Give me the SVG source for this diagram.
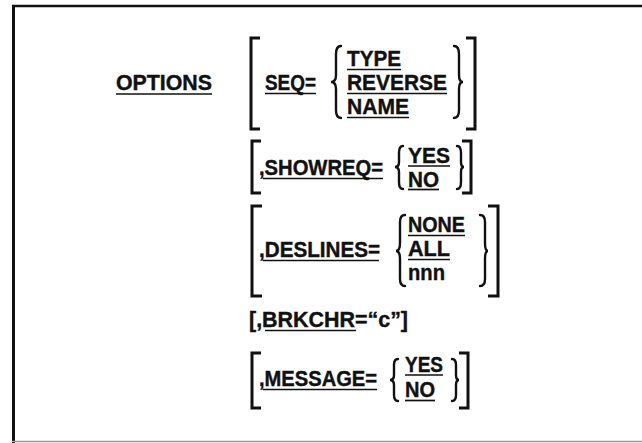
<svg xmlns="http://www.w3.org/2000/svg" width="642" height="443" viewBox="0 0 642 443">
<style>
text{font-family:"Liberation Sans",Arial,sans-serif;font-weight:bold;font-size:22px;fill:#111;stroke:#111;stroke-width:0.4}
.u{stroke:#111;stroke-width:1.7}
.br{fill:none;stroke:#111;stroke-width:3}
.cb{fill:none;stroke:#111;stroke-width:2.4;stroke-linecap:round}
</style>
<rect width="642" height="443" fill="#fff"/>
<g id="frame">
<line x1="13.5" y1="5" x2="13.5" y2="443" stroke="#111" stroke-width="3"/>
<line x1="12" y1="6" x2="642" y2="6" stroke="#111" stroke-width="2.5"/>
<line x1="12" y1="441.5" x2="642" y2="441.5" stroke="#999" stroke-width="1.5"/>
</g>
<g id="options">
<text x="116" y="90" textLength="96" lengthAdjust="spacingAndGlyphs">OPTIONS</text>
<line class="u" x1="116" y1="94" x2="212" y2="94"/>
</g>
<g id="seq">
<path class="br" d="M260 38H251V129H260"/>
<path class="br" d="M466 38H475V129H466"/>
<text x="265" y="90" textLength="51" lengthAdjust="spacingAndGlyphs">SEQ=</text>
<line class="u" x1="265" y1="93.5" x2="316" y2="93.5"/>
<path class="cb" d="M341 46Q336 46 336 54V75Q336 82 331 82Q336 82 336 89V110Q336 118 341 118"/>
<text x="347" y="66" textLength="54" lengthAdjust="spacingAndGlyphs">TYPE</text>
<line class="u" x1="347" y1="69.5" x2="401" y2="69.5"/>
<text x="347" y="90" textLength="100" lengthAdjust="spacingAndGlyphs">REVERSE</text>
<line class="u" x1="347" y1="93.5" x2="447" y2="93.5"/>
<text x="347" y="114" textLength="62" lengthAdjust="spacingAndGlyphs">NAME</text>
<line class="u" x1="347" y1="117.5" x2="409" y2="117.5"/>
<path class="cb" d="M454 46Q459 46 459 54V75Q459 82 463 82Q459 82 459 89V110Q459 118 454 118"/>
</g>
<g id="showreq">
<path class="br" d="M261 141H252V193H261"/>
<path class="br" d="M462 141H471V193H462"/>
<text x="259" y="175" textLength="124" lengthAdjust="spacingAndGlyphs">,SHOWREQ=</text>
<line class="u" x1="263" y1="178.5" x2="383" y2="178.5"/>
<path class="cb" d="M403 146Q399 146 399 153V162Q399 167 395 167Q399 167 399 172V182Q399 189 403 189"/>
<text x="408" y="163" textLength="42" lengthAdjust="spacingAndGlyphs">YES</text>
<line class="u" x1="408" y1="166" x2="450" y2="166"/>
<text x="408" y="187" textLength="31" lengthAdjust="spacingAndGlyphs">NO</text>
<line class="u" x1="408" y1="189.5" x2="439" y2="189.5"/>
<path class="cb" d="M457 146Q461 146 461 153V162Q461 167 464 167Q461 167 461 172V182Q461 189 457 189"/>
</g>
<g id="deslines">
<path class="br" d="M262 206H252V296H262"/>
<path class="br" d="M488 206H498V296H488"/>
<text x="259" y="257" textLength="121" lengthAdjust="spacingAndGlyphs">,DESLINES=</text>
<line class="u" x1="263" y1="260.5" x2="379" y2="260.5"/>
<path class="cb" d="M405 215Q400 215 400 222V243Q400 251 396 251Q400 251 400 259V279Q400 286 405 286"/>
<text x="408" y="232" textLength="57" lengthAdjust="spacingAndGlyphs">NONE</text>
<line class="u" x1="408" y1="235.5" x2="465" y2="235.5"/>
<text x="408" y="256" textLength="42" lengthAdjust="spacingAndGlyphs">ALL</text>
<line class="u" x1="408" y1="259.5" x2="450" y2="259.5"/>
<text x="408" y="280" textLength="37" lengthAdjust="spacingAndGlyphs">nnn</text>
<path class="cb" d="M480 215Q485 215 485 222V243Q485 251 488 251Q485 251 485 259V279Q485 286 480 286"/>
</g>
<g id="brkchr">
<text x="249" y="327" textLength="159" lengthAdjust="spacingAndGlyphs">[,BRKCHR=“c”]</text>
<line class="u" x1="265" y1="330.5" x2="356" y2="330.5"/>
</g>
<g id="message">
<path class="br" d="M261 353H252V408H261"/>
<path class="br" d="M459 353H468V408H459"/>
<text x="259" y="386" textLength="118" lengthAdjust="spacingAndGlyphs">,MESSAGE=</text>
<line class="u" x1="263" y1="389.5" x2="377" y2="389.5"/>
<path class="cb" d="M398 359Q394 359 394 365V375Q394 380 390 380Q394 380 394 385V395Q394 401 398 401"/>
<text x="405" y="372" textLength="38" lengthAdjust="spacingAndGlyphs">YES</text>
<line class="u" x1="405" y1="375" x2="443" y2="375"/>
<text x="405" y="397" textLength="30" lengthAdjust="spacingAndGlyphs">NO</text>
<line class="u" x1="405" y1="400.5" x2="435" y2="400.5"/>
<path class="cb" d="M452 359Q456 359 456 365V375Q456 380 459 380Q456 380 456 385V395Q456 401 452 401"/>
</g>
</svg>
